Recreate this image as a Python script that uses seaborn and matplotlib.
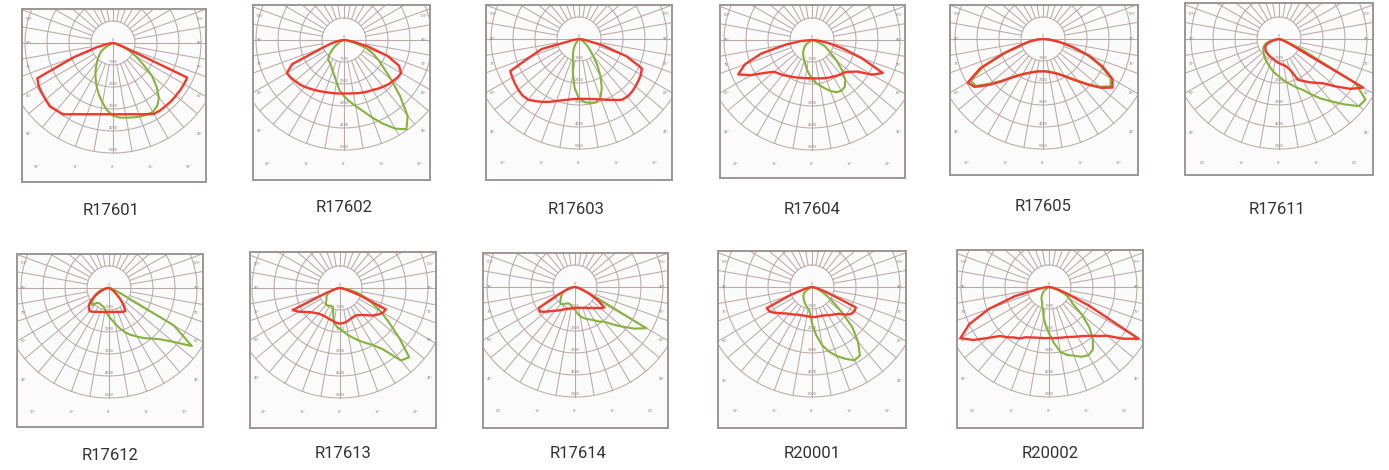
import numpy as np
import matplotlib
matplotlib.use("Agg")
import matplotlib.pyplot as plt
import seaborn as sns

# angle from nadir (deg), 0 = straight down, positive = right side
ANGLES = list(range(-90, 95, 5))

NAMES = ["R17601", "R17602", "R17603", "R17604", "R17605", "R17611",
         "R17612", "R17613", "R17614", "R20001", "R20002"]

# intensities in grid-ring units (1 ring = 1 unit)
R17601_RED = [0, 0.1, 0.3, 0.8, 1.9, 3.8, 3.9, 3.95, 4.0, 4.07, 4.0, 3.96, 3.74, 3.57, 3.45, 3.35, 3.29, 3.25, 3.24,
              3.25, 3.29, 3.35, 3.45, 3.57, 3.72, 3.74, 3.73, 3.74, 3.73, 3.73, 3.73, 3.72, 0.5, 0.15, 0.05, 0, 0]
R17601_GREEN = [0, 0, 0, 0, 0, 0, 0.4, 0.65, 0.8, 0.95, 1.13, 1.35, 1.6, 1.85, 2.15, 2.45, 2.75, 3.07, 3.3,
                3.4, 3.45, 3.5, 3.56, 3.6, 3.62, 3.5, 3.25, 2.8, 2.3, 1.65, 1.2, 0.79, 0.4, 0.15, 0, 0, 0]
R17602_RED = [0, 0.1, 0.3, 0.6, 1.05, 2.6, 3.0, 2.97, 2.9, 2.85, 2.78, 2.7, 2.63, 2.57, 2.52, 2.48, 2.46, 2.44, 2.43,
              2.44, 2.46, 2.5, 2.54, 2.58, 2.62, 2.7, 2.77, 2.85, 2.9, 2.97, 3.0, 2.75, 2.1, 1.1, 0.4, 0.1, 0]
R17602_GREEN = [0, 0, 0, 0, 0, 0.15, 0.3, 0.5, 0.7, 0.95, 1.13, 1.18, 1.25, 1.35, 1.5, 1.68, 1.95, 2.3, 2.55,
                2.8, 3.05, 3.35, 3.75, 4.2, 4.65, 4.95, 4.5, 3.6, 2.8, 2.2, 1.8, 1.45, 1.05, 0.5, 0.2, 0.05, 0]
R17603_RED = [0, 0.05, 0.25, 1.75, 2.35, 3.45, 3.5, 3.55, 3.6, 3.63, 3.6, 3.45, 3.3, 3.15, 3.0, 2.88, 2.8, 2.74, 2.72,
              2.73, 2.77, 2.83, 2.92, 3.05, 3.2, 3.38, 3.42, 3.4, 3.35, 3.3, 3.25, 3.15, 2.3, 1.1, 0.3, 0.1, 0]
R17603_GREEN = [0, 0, 0, 0, 0, 0, 0, 0, 0, 0, 0.1, 0.3, 0.45, 0.62, 0.8, 1.08, 1.6, 2.25, 2.7,
                2.88, 2.95, 2.98, 2.85, 2.45, 1.95, 1.45, 1.0, 0.7, 0.5, 0.35, 0.2, 0.1, 0, 0, 0, 0, 0]
R17604_RED = [0, 0.5, 1.2, 2.4, 3.25, 3.7, 3.2, 2.6, 2.25, 2.15, 2.08, 1.98, 1.92, 1.87, 1.82, 1.78, 1.76, 1.74, 1.74,
              1.75, 1.77, 1.8, 1.84, 1.88, 1.92, 1.98, 2.04, 2.08, 2.25, 2.5, 3.15, 3.55, 2.4, 1.4, 0.7, 0.25, 0]
R17604_GREEN = [0, 0, 0, 0, 0, 0, 0, 0.3, 0.4, 0.5, 0.6, 0.7, 0.8, 0.9, 1.0, 1.15, 1.35, 1.55, 1.74,
                1.95, 2.1, 2.28, 2.47, 2.62, 2.67, 2.6, 2.35, 1.93, 1.45, 1.05, 0.8, 0.62, 0.3, 0.1, 0, 0, 0]
R17605_RED = [0, 0.25, 0.6, 1.0, 1.9, 3.15, 3.95, 3.8, 3.25, 2.75, 2.32, 2.05, 1.85, 1.72, 1.62, 1.55, 1.5, 1.48, 1.47,
              1.48, 1.52, 1.58, 1.66, 1.78, 1.95, 2.2, 2.52, 2.95, 3.45, 3.85, 3.65, 3.0, 2.25, 1.4, 0.75, 0.3, 0]
R17605_GREEN = [0, 0.25, 0.55, 0.95, 1.8, 3.0, 3.8, 3.72, 3.15, 2.7, 2.3, 2.03, 1.84, 1.71, 1.61, 1.54, 1.49, 1.47, 1.46,
                1.47, 1.5, 1.56, 1.64, 1.76, 1.93, 2.17, 2.48, 2.9, 3.38, 3.75, 3.55, 2.9, 2.15, 1.35, 0.7, 0.28, 0]
R17611_RED = [0, 0.05, 0.1, 0.3, 0.5, 0.65, 0.72, 0.75, 0.8, 0.82, 0.84, 0.86, 0.88, 0.9, 0.92, 0.95, 1.0, 1.05, 1.1,
              1.15, 1.2, 1.3, 1.5, 2.05, 2.2, 2.4, 2.6, 2.85, 3.35, 3.95, 4.42, 0.6, 0.2, 0.1, 0, 0, 0]
R17611_GREEN = [0, 0.1, 0.3, 0.5, 0.65, 0.75, 0.83, 0.87, 0.92, 0.97, 1.03, 1.1, 1.15, 1.22, 1.3, 1.4, 1.5, 1.6, 1.7,
                1.85, 2.0, 2.15, 2.35, 2.55, 2.9, 3.3, 3.7, 4.2, 4.75, 4.8, 4.0, 1.2, 0.45, 0.25, 0.1, 0, 0]
R17612_RED = [0, 0.05, 0.15, 0.25, 0.38, 0.53, 0.75, 1.0, 1.18, 1.3, 1.37, 1.32, 1.25, 1.2, 1.16, 1.13, 1.11, 1.1, 1.09,
              1.1, 1.11, 1.13, 1.16, 1.2, 1.25, 1.29, 1.05, 0.75, 0.45, 0.3, 0.18, 0.08, 0, 0, 0, 0, 0]
R17612_GREEN = [0, 0.1, 0.2, 0.35, 0.5, 0.65, 0.78, 0.88, 1.0, 1.1, 0.9, 0.83, 0.83, 0.85, 0.87, 0.9, 1.0, 1.15, 1.3,
                1.45, 1.65, 1.9, 2.15, 2.35, 2.55, 2.78, 3.0, 3.3, 3.8, 4.6, 3.4, 0.6, 0.3, 0.1, 0, 0, 0]
R17613_RED = [0, 0.05, 0.15, 0.3, 0.7, 2.38, 2.15, 1.9, 1.72, 1.6, 1.52, 1.48, 1.46, 1.47, 1.49, 1.51, 1.55, 1.6, 1.62,
              1.6, 1.57, 1.52, 1.48, 1.45, 1.44, 1.5, 1.6, 1.75, 1.95, 2.1, 2.25, 2.3, 0.9, 0.3, 0.1, 0, 0]
R17613_GREEN = [0, 0.05, 0.15, 0.3, 0.45, 0.6, 0.7, 0.75, 0.8, 0.9, 0.99, 0.97, 0.93, 0.9, 0.92, 1.2, 1.6, 1.75, 1.87,
                2.0, 2.18, 2.35, 2.55, 2.75, 3.0, 3.4, 4.3, 4.45, 3.5, 2.7, 2.15, 1.6, 1.2, 0.8, 0.4, 0.1, 0]
R17614_RED = [0, 0.05, 0.15, 0.3, 0.5, 0.9, 1.9, 1.95, 1.75, 1.55, 1.41, 1.3, 1.2, 1.12, 1.06, 1.02, 0.99, 0.97, 0.95,
              0.95, 0.96, 0.98, 1.01, 1.05, 1.1, 1.17, 1.24, 1.35, 1.5, 1.62, 1.2, 0.7, 0.35, 0.15, 0.05, 0, 0]
R17614_GREEN = [0, 0.05, 0.15, 0.3, 0.45, 0.6, 0.7, 0.78, 0.85, 0.95, 1.0, 0.95, 0.88, 0.82, 0.8, 0.82, 0.9, 0.97, 1.03,
                1.2, 1.35, 1.45, 1.55, 1.63, 1.75, 1.92, 2.05, 2.4, 2.8, 3.3, 3.75, 0.85, 0.3, 0.1, 0, 0, 0]
R20001_RED = [0, 0.05, 0.15, 0.35, 1.0, 2.27, 2.23, 2.05, 1.85, 1.7, 1.6, 1.52, 1.45, 1.4, 1.37, 1.35, 1.35, 1.35, 1.36,
              1.37, 1.37, 1.37, 1.38, 1.42, 1.48, 1.55, 1.62, 1.72, 1.95, 2.15, 2.22, 2.2, 0.75, 0.3, 0.1, 0, 0]
R20001_GREEN = [0, 0, 0, 0, 0, 0, 0.2, 0.4, 0.5, 0.55, 0.6, 0.66, 0.72, 0.78, 0.85, 0.92, 1.0, 1.15, 1.67,
                2.2, 2.7, 3.05, 3.35, 3.6, 3.85, 3.8, 3.25, 2.6, 1.75, 1.15, 0.75, 0.45, 0.25, 0.1, 0, 0, 0]
R20002_RED = [0, 0.2, 0.5, 1.6, 2.9, 4.0, 4.65, 4.2, 3.6, 3.15, 2.98, 2.8, 2.7, 2.52, 2.44, 2.38, 2.35, 2.33, 2.32,
              2.33, 2.35, 2.38, 2.42, 2.5, 2.6, 2.72, 2.9, 3.15, 3.45, 4.1, 4.7, 2.0, 0.85, 0.4, 0.15, 0.05, 0]
R20002_GREEN = [0, 0, 0, 0, 0, 0, 0, 0.2, 0.32, 0.4, 0.5, 0.6, 0.67, 0.75, 0.9, 1.07, 1.4, 1.75, 2.1,
                2.55, 3.0, 3.2, 3.32, 3.5, 3.58, 3.48, 3.1, 2.6, 1.95, 1.3, 1.1, 0.85, 0.5, 0.2, 0.05, 0, 0]

RED_CURVES = [R17601_RED, R17602_RED, R17603_RED, R17604_RED, R17605_RED, R17611_RED,
              R17612_RED, R17613_RED, R17614_RED, R20001_RED, R20002_RED]
GREEN_CURVES = [R17601_GREEN, R17602_GREEN, R17603_GREEN, R17604_GREEN, R17605_GREEN, R17611_GREEN,
                R17612_GREEN, R17613_GREEN, R17614_GREEN, R20001_GREEN, R20002_GREEN]

RING_LABELS = ["0", "1000", "2000", "3000", "4000", "5000"]
SIDE_ANGLES = [105, 90, 75, 60, 45]
BOTTOM_LABELS = ["30°", "15°", "0°", "15°", "30°"]

# layout, in pixels of the 1389x470 image: box left, top, right, bottom, light source x, y
BOXES = [(22, 9, 206, 182, 113, 43), (253, 5, 430, 180, 344, 40), (486, 5, 672, 180, 579, 39),
         (720, 5, 905, 178, 812, 40), (950, 5, 1138, 175, 1043, 39), (1185, 3, 1373, 175, 1279, 39),
         (17, 254, 203, 427, 109, 288), (250, 252, 436, 428, 340, 288), (483, 253, 668, 428, 575, 287),
         (718, 251, 906, 428, 812, 287), (957, 250, 1143, 428, 1049, 287)]
LABEL_XY = [(111, 211), (344, 208), (576, 210), (812, 210), (1043, 206), (1277, 209),
            (110, 456), (343, 453), (578, 453), (812, 453), (1050, 453)]

W, H = 1389, 470
PX = 22.0  # pixels per ring
GRID = "#b9aba8"
RED = "#f2382c"
GREEN = "#86b33d"

sns.set_theme(style="white")
plt.rcParams["font.family"] = ["Roboto", "DejaVu Sans"]

fig = plt.figure(figsize=(W / 100, H / 100), dpi=100)
fig.patch.set_facecolor("white")

t = np.radians(np.arange(0, 362, 2))
theta = np.radians(ANGLES)

for i, name in enumerate(NAMES):
    left, top, right, bottom, cx, cy = BOXES[i]
    ax = fig.add_axes([left / W, 1 - bottom / H, (right - left) / W, (bottom - top) / H])
    ax.set_facecolor("#fbfbfb")
    xl = (left - cx) / PX
    xr = (right - cx) / PX
    ax.set_xlim(xl, xr)
    ax.set_ylim(-(bottom - cy) / PX, (cy - top) / PX)

    # polar grid
    for k in range(1, 6):
        ax.plot(k * np.sin(t), k * np.cos(t), color=GRID, lw=0.75, zorder=1)
    for a in range(0, 360, 10):
        ar = np.radians(a)
        ax.plot([np.sin(ar), 5 * np.sin(ar)], [-np.cos(ar), -5 * np.cos(ar)], color=GRID, lw=0.75, zorder=1)
    ax.plot([xl, xr], [0, 0], color=GRID, lw=0.75, zorder=1)
    ax.plot([0, 0], [0, -5], color=GRID, lw=0.75, zorder=1)

    # tiny scale labels
    for k, lab in enumerate(RING_LABELS):
        ax.text(0, -k + 0.15 if k else 0.15, lab, fontsize=2.8, color="#8a8080",
                ha="center", va="center", zorder=2)
    for a in SIDE_ANGLES:
        ar = np.radians(a)
        yl = xl * np.cos(ar) / np.sin(ar)
        ax.text(xl + 0.3, yl, f"{a}°", fontsize=2.8, color="#8a8080", ha="center", va="center", zorder=2)
        ax.text(xr - 0.3, yl, f"{a}°", fontsize=2.8, color="#8a8080", ha="center", va="center", zorder=2)
    for lab, bx in zip(BOTTOM_LABELS, [-3.45, -1.7, 0, 1.7, 3.45]):
        ax.text(bx, -5.65, lab, fontsize=2.8, color="#8a8080", ha="center", va="center", zorder=2)

    # distribution curves
    rg = np.array(GREEN_CURVES[i])
    rr = np.array(RED_CURVES[i])
    sns.lineplot(x=rg * np.sin(theta), y=-rg * np.cos(theta), sort=False, estimator=None,
                 color=GREEN, lw=1.5, ax=ax, zorder=3, legend=False)
    sns.lineplot(x=rr * np.sin(theta), y=-rr * np.cos(theta), sort=False, estimator=None,
                 color=RED, lw=1.7, ax=ax, zorder=4, legend=False)

    ax.set_xticks([])
    ax.set_yticks([])
    ax.set_xlabel("")
    ax.set_ylabel("")
    for sp in ax.spines.values():
        sp.set_visible(True)
        sp.set_color("#9e9696")
        sp.set_linewidth(1.4)

    lx, ly = LABEL_XY[i]
    fig.text(lx / W, 1 - ly / H, name, fontsize=12, color="#333333", ha="center", va="center")

fig.savefig("out.png", dpi=100, facecolor="white")
